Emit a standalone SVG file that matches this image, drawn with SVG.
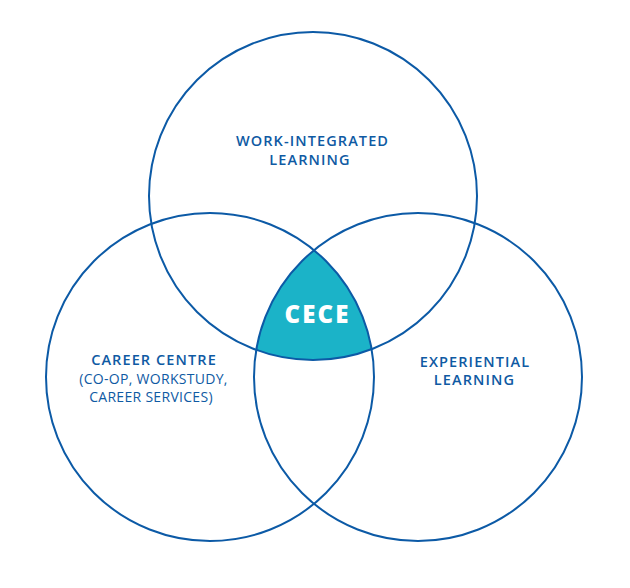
<svg xmlns="http://www.w3.org/2000/svg" width="630" height="588" viewBox="0 0 630 588">
<style>
.c{fill:none;stroke:#0c5aa6;stroke-width:2}
.t{font-family:"Open Sans","Noto Sans",sans-serif;fill:#0f5aa3;text-anchor:middle}
.b{font-size:14.5px;font-weight:600;letter-spacing:1.1px}
.n{font-size:14px;font-weight:400;letter-spacing:0.3px}
.w{font-family:"Open Sans","Noto Sans",sans-serif;font-size:24px;font-weight:800;fill:#ffffff;text-anchor:middle;letter-spacing:2.2px}
</style>
<rect width="630" height="588" fill="#ffffff"/>
<g id="cece-region">
<path d="M314,250.2 A164,164 0 0 0 256.3,349.9 A164,164 0 0 0 371.6,349.2 A164,164 0 0 0 314,250.2 Z" fill="#1bb3c8"/>
</g>
<g id="connectors">
<circle class="c" cx="313" cy="196" r="164"/>
<circle class="c" cx="210" cy="377" r="164"/>
<circle class="c" cx="418" cy="377" r="164"/>
</g>
<g id="work-integrated">
<text class="t b" x="312.5" y="146">WORK-INTEGRATED</text>
<text class="t b" x="310" y="164.5">LEARNING</text>
</g>
<g id="career-centre">
<text class="t b" x="154" y="365">CAREER CENTRE</text>
<text class="t n" x="153.5" y="383.5">(CO-OP, WORKSTUDY,</text>
<text class="t n" x="151" y="402">CAREER SERVICES)</text>
</g>
<g id="experiential">
<text class="t b" x="475" y="366.5">EXPERIENTIAL</text>
<text class="t b" x="474.5" y="384.5">LEARNING</text>
</g>
<g id="cece">
<text class="w" x="317.6" y="323">CECE</text>
</g>
</svg>
